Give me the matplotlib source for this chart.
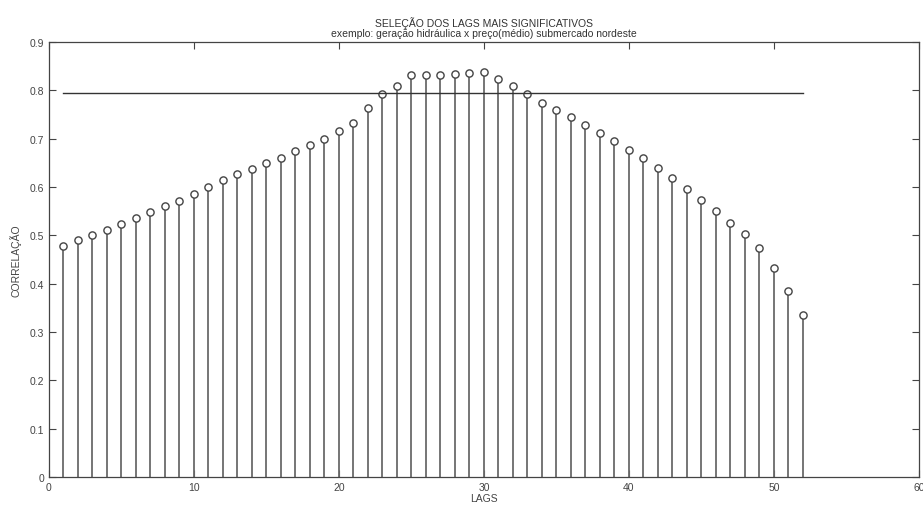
import numpy as np
import matplotlib
matplotlib.use("Agg")
import matplotlib.pyplot as plt

plt.rcParams["font.family"] = ["Liberation Sans", "DejaVu Sans"]

lags = list(range(1, 53))
corr = [0.478, 0.490, 0.500, 0.511, 0.523, 0.535, 0.548, 0.560, 0.572, 0.586,
        0.600, 0.614, 0.627, 0.638, 0.649, 0.661, 0.674, 0.686, 0.700, 0.715,
        0.733, 0.764, 0.792, 0.810, 0.831, 0.831, 0.831, 0.833, 0.836, 0.837,
        0.824, 0.808, 0.792, 0.774, 0.760, 0.744, 0.728, 0.711, 0.695, 0.677,
        0.659, 0.640, 0.619, 0.595, 0.573, 0.551, 0.525, 0.502, 0.473, 0.432,
        0.384, 0.336]
limiar = 0.795

fig = plt.figure(figsize=(9.23, 5.06), dpi=100)
ax = fig.add_axes([0.053, 0.0553, 0.9426, 0.8597])

markerline, stemlines, baseline = ax.stem(lags, corr, basefmt=" ")
plt.setp(stemlines, color="#6a6a6a", linewidth=1.3)
plt.setp(markerline, marker="o", markersize=5.2, markerfacecolor="white",
         markeredgecolor="#444444", markeredgewidth=1.0, linestyle="none")

ax.plot([lags[0], lags[-1]], [limiar, limiar], color="#333333", linewidth=1.0)

ax.set_xlim(0, 60)
ax.set_ylim(0, 0.9)
ax.set_xticks([0, 10, 20, 30, 40, 50, 60])
ax.set_yticks(np.arange(0, 0.91, 0.1))
ax.set_yticklabels(["0", "0.1", "0.2", "0.3", "0.4", "0.5", "0.6", "0.7", "0.8", "0.9"])
ax.tick_params(direction="in", top=True, right=True, length=5, labelsize=7.5,
               colors="#444444", width=0.8)
for s in ax.spines.values():
    s.set_color("#444444")
    s.set_linewidth(0.9)

ax.set_xlabel("LAGS", fontsize=7.5, color="#444444", labelpad=1)
ax.set_ylabel("CORRELAÇÃO", fontsize=7.5, color="#444444", labelpad=6)
ax.set_title("SELEÇÃO DOS LAGS MAIS SIGNIFICATIVOS\n"
             "exemplo: geração hidráulica x preço(médio) submercado nordeste",
             fontsize=7.5, color="#333333", pad=4, linespacing=1.1)

fig.savefig("out.png", dpi=100)
